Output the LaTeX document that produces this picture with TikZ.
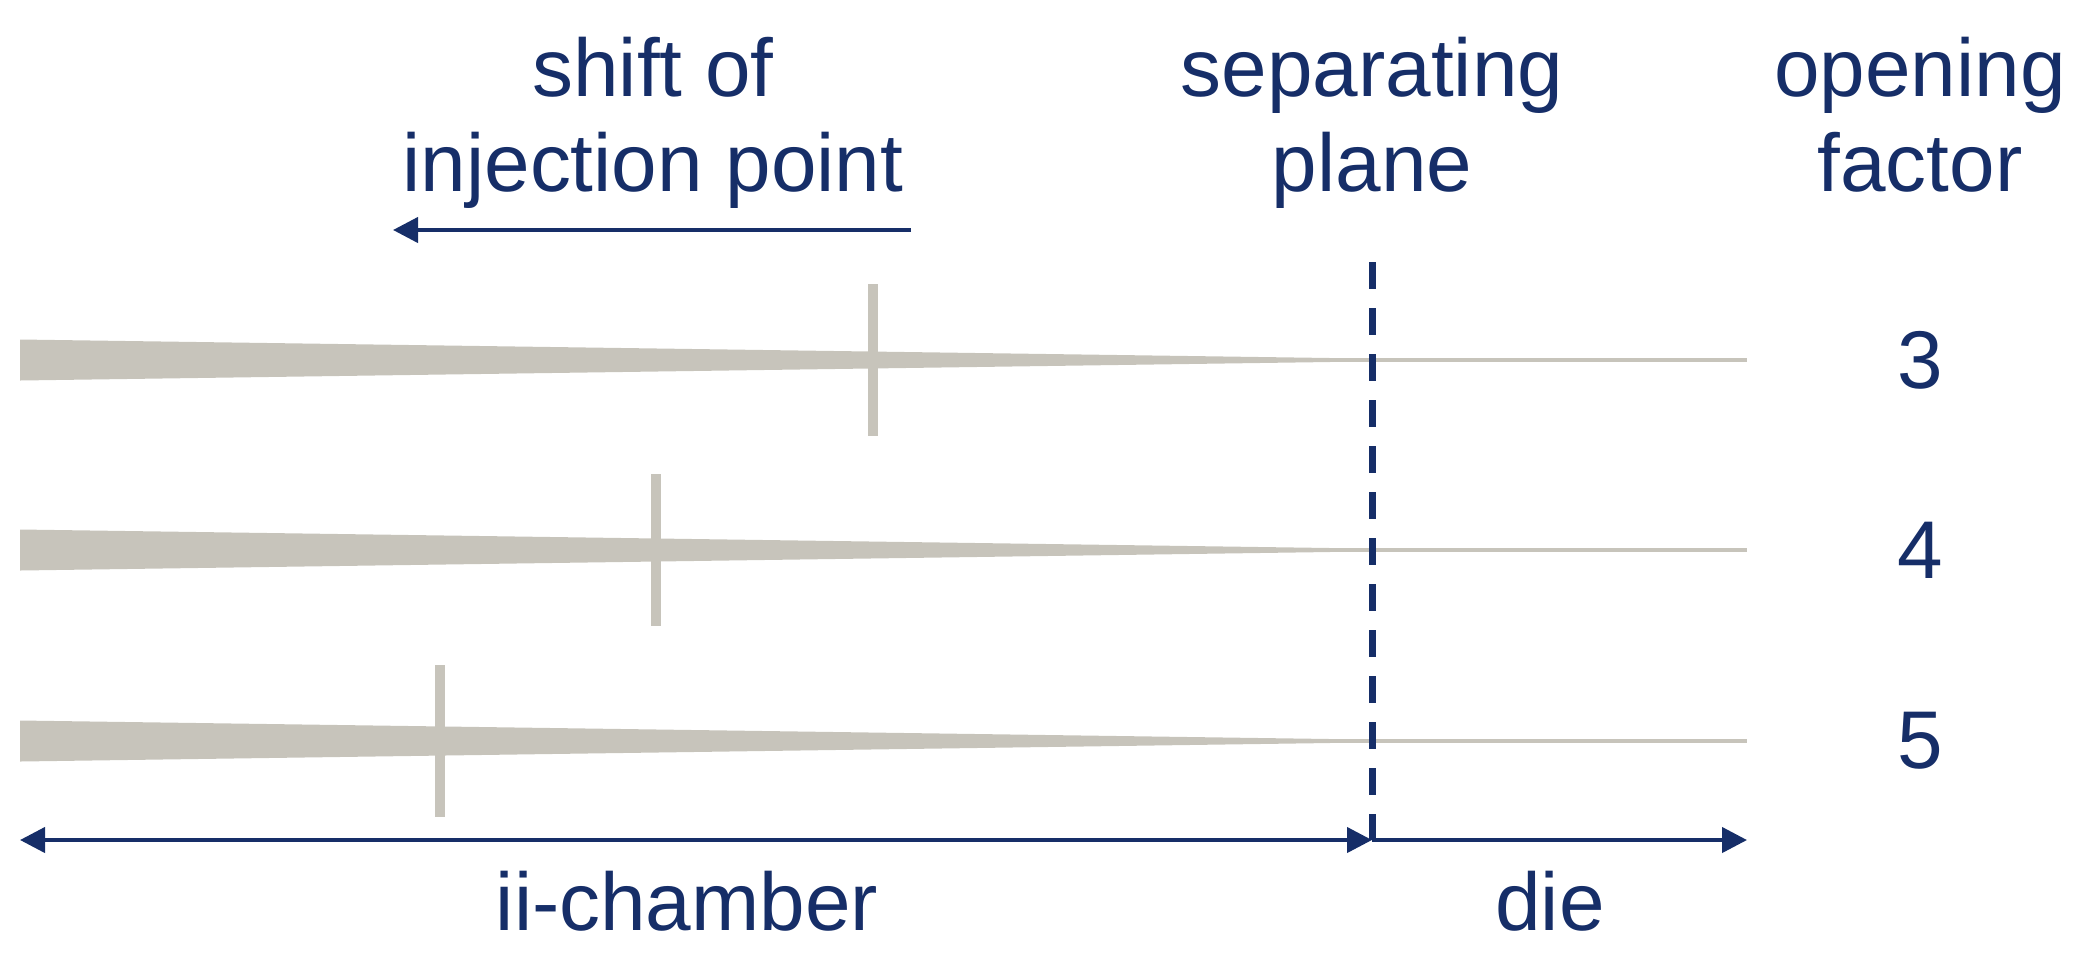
\documentclass[tikz,border=0pt]{standalone}
\usepackage{fontspec}
\setmainfont{Liberation Sans}
\usetikzlibrary{arrows.meta, positioning}
\definecolor{navy1}{RGB}{22,46,104}
\definecolor{melt}{RGB}{199,196,187}
\tikzset{
  lbl/.style={text=navy1, font=\fontsize{23.3}{27}\selectfont, inner sep=0pt, anchor=base},
  numlbl/.style={lbl, anchor=center},
  dimline/.style={navy1, line width=1.2pt, >={Triangle[length=0.25cm, width=0.25cm]}},
  runner/.style={melt, line width=1.3pt},
  gatemark/.style={melt, line width=3.1pt},
  planeline/.style={navy1, line width=2pt, dash pattern=on 0.27cm off 0.19cm},
}

\begin{document}
\begin{tikzpicture}
  \useasboundingbox (0,0) rectangle (20.91,-9.58);
  % headings
  \node[lbl] (shift) at (6.53,-0.96) {shift of};
  \node[lbl] (inj) at (6.53,-1.91) {injection point};
  \node[lbl] (sep) at (13.72,-0.96) {separating};
  \node[lbl] (plane) at (13.72,-1.91) {plane};
  \node[lbl] (open) at (19.20,-0.96) {opening};
  \node[lbl] (fac) at (19.20,-1.91) {factor};
  % shift arrow
  \coordinate (sa) at (9.11,-2.30);
  \coordinate (sb) at (3.93,-2.30);
  \draw[dimline, ->] (sa) -- (sb);
  % runners, gate marks and factors
  \foreach \y/\x/\n in {3.60/8.73/3, 5.50/6.56/4, 7.41/4.40/5} {
    \fill[melt] (0.20,-\y+0.205) -- (13.3,-\y+0.02) -- (13.3,-\y-0.02) -- (0.20,-\y-0.205) -- cycle;
    \coordinate (r\n) at (13.2,-\y);
    \coordinate (e\n) at (17.47,-\y);
    \draw[runner] (r\n) -- (e\n);
    \coordinate (gt\n) at (\x,-\y+0.76);
    \coordinate (gb\n) at (\x,-\y-0.76);
    \draw[gatemark] (gt\n) -- (gb\n);
    \node[numlbl] (of\n) at (19.20,-\y) {\n};
  }
  % separating plane
  \coordinate (pt) at (13.72,-2.62);
  \coordinate (pb) at (13.72,-8.40);
  \draw[planeline] (pt) -- (pb);
  % chamber and die
  \coordinate (cl) at (0.20,-8.40);
  \coordinate (cr) at (17.47,-8.40);
  \draw[dimline, <->] (cl) -- (pb);
  \draw[dimline, ->] (pb) -- (cr);
  \node[lbl] (chamber) at (6.87,-9.30) {ii-chamber};
  \node[lbl] (die) at (15.50,-9.30) {die};
\end{tikzpicture}
\end{document}
